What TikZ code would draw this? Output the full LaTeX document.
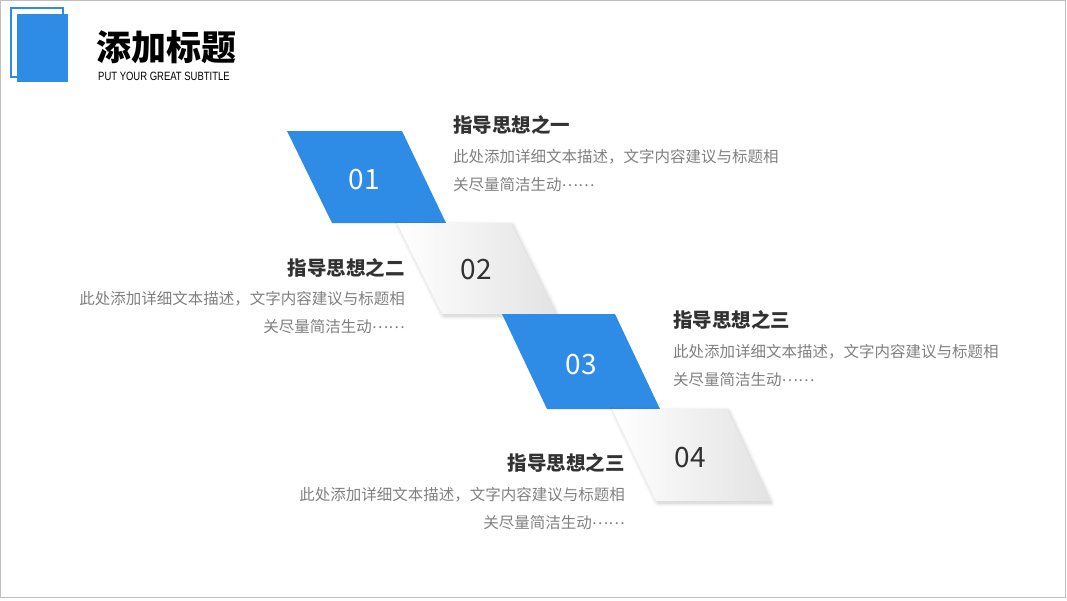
\documentclass[tikz,border=0pt]{standalone}
\usepackage{fontspec}
\setmainfont{Noto Sans CJK SC}
\newfontfamily\subfont{Liberation Sans}[FakeStretch=0.79]
\usetikzlibrary{shadows.blur}
\definecolor{tblue}{RGB}{46,139,230}
\definecolor{ttext}{RGB}{50,50,50}
\definecolor{tgray}{RGB}{128,128,128}
\newcommand\elli{\raisebox{.3em}{……}}
\tikzset{
  pblue/.style={fill=tblue},
  pgray/.style={left color=white, right color=black!11,
    blur shadow={shadow xshift=1.5pt, shadow yshift=-2pt, shadow opacity=22,
      shadow blur radius=4pt, shadow blur steps=8}},
  numw/.style={font=\fontsize{28}{28}\selectfont, text=white},
  numd/.style={font=\fontsize{28}{28}\selectfont, text=ttext},
  ttl/.style={font=\fontsize{19.5}{19.5}\selectfont\bfseries, text=ttext, inner sep=0pt},
  txt/.style={font=\fontsize{15.5}{28}\selectfont, text=tgray, inner sep=0pt},
}

\begin{document}
\begin{tikzpicture}[x=1pt, y=-1pt]
  \useasboundingbox (0,0) rectangle (1067,600);
  \draw[black!25] (0.5,0.5) rectangle (1065.5,597.5);
  % header
  \draw[tblue, line width=1.3pt] (11,8) rectangle (63,77);
  \fill[tblue] (17,14) rectangle (68,82);
  \node[font=\fontsize{35}{35}\selectfont\bfseries, anchor=west, inner sep=0pt] (title) at (96,47) {添加标题};
  \node[font=\subfont\fontsize{12}{12}\selectfont, anchor=west, inner sep=0pt] (subtitle) at (98,76) {PUT YOUR GREAT SUBTITLE};
  % steps
  \fill[pblue] (287,131) -- (402,131) -- (446,223) -- (332,223) -- cycle;
  \path[pgray] (397,223) -- (511,223) -- (556,314) -- (442,314) -- cycle;
  \fill[pblue] (502,314) -- (615,314) -- (660,409) -- (547,409) -- cycle;
  \path[pgray] (612,409) -- (727,409) -- (770,501) -- (656,501) -- cycle;
  \node[numw] (n1) at (364,180) {01};
  \node[numd] (n2) at (476,270) {02};
  \node[numw] (n3) at (581,365) {03};
  \node[numd] (n4) at (690,458) {04};
  % texts
  \node[ttl, anchor=west] (t1) at (453,125) {指导思想之一};
  \node[txt, anchor=west, align=left] (b1) at (453,171) {此处添加详细文本描述，文字内容建议与标题相\\关尽量简洁生动\elli};
  \node[ttl, anchor=east] (t2) at (405,268) {指导思想之二};
  \node[txt, anchor=east, align=right] (b2) at (405,313) {此处添加详细文本描述，文字内容建议与标题相\\关尽量简洁生动\elli};
  \node[ttl, anchor=west] (t3) at (673,320) {指导思想之三};
  \node[txt, anchor=west, align=left] (b3) at (673,366) {此处添加详细文本描述，文字内容建议与标题相\\关尽量简洁生动\elli};
  \node[ttl, anchor=east] (t4) at (625,463) {指导思想之三};
  \node[txt, anchor=east, align=right] (b4) at (625,509) {此处添加详细文本描述，文字内容建议与标题相\\关尽量简洁生动\elli};
\end{tikzpicture}
\end{document}
